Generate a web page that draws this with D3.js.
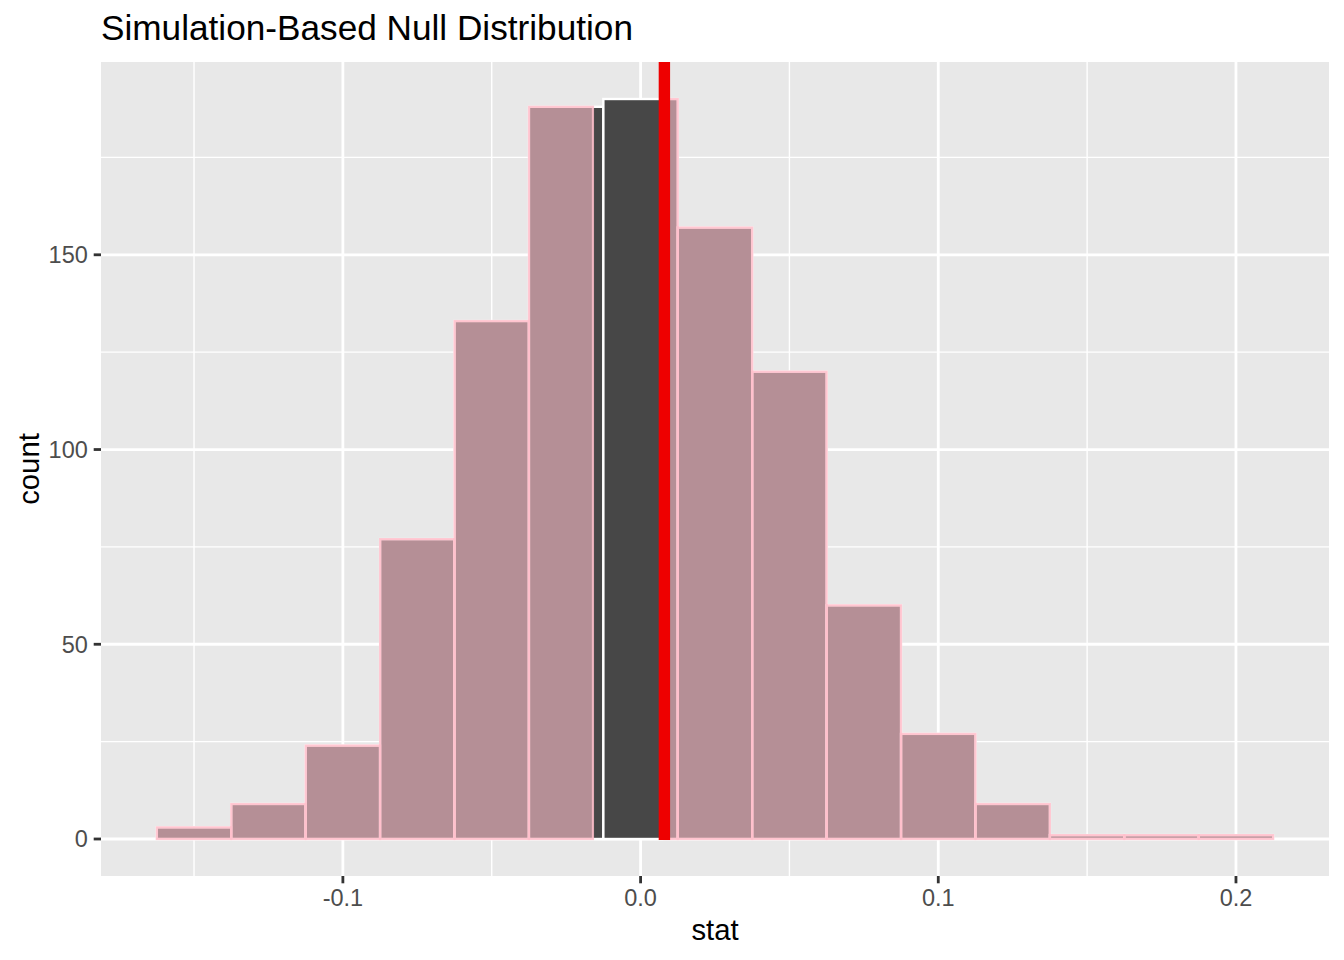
<!DOCTYPE html>
<html>
<head>
<meta charset="utf-8">
<script src="https://cdn.jsdelivr.net/npm/d3@7"></script>
<style>
  html, body { margin: 0; padding: 0; background: #fff; }
  svg { display: block; }
  text { font-family: "Liberation Sans", Arial, Helvetica, sans-serif; }
</style>
</head>
<body>
<svg id="chart" width="1344" height="960"></svg>
<script>
// ---- data ----
const binCenters = [-0.15, -0.125, -0.1, -0.075, -0.05, -0.025, 0, 0.025, 0.05, 0.075, 0.1, 0.125, 0.15, 0.175, 0.2];
const counts     = [3, 9, 24, 77, 133, 188, 190, 157, 120, 60, 27, 9, 1, 1, 1];
const binWidth = 0.025;
const obsStat = 0.008;      // observed statistic (red line)
const mirrorStat = -0.016;  // mirrored cut-off for two-sided shading
const xTicks = [-0.1, 0, 0.1, 0.2];
const xTickLabels = ["-0.1", "0.0", "0.1", "0.2"];
const xMinor = [-0.15, -0.05, 0.05, 0.15];
const yTicks = [0, 50, 100, 150];
const yMinor = [25, 75, 125, 175];
const titleText = "Simulation-Based Null Distribution";
const xTitle = "stat";
const yTitle = "count";

// ---- layout ----
const svg = d3.select("#chart");
const panel = { left: 101, top: 62, right: 1329, bottom: 876 };

const bins = binCenters.map((c, i) => ({ x0: c - binWidth / 2, x1: c + binWidth / 2, n: counts[i] }));
const xMin = d3.min(bins, d => d.x0), xMax = d3.max(bins, d => d.x1);
const xPad = (xMax - xMin) * 0.05;
const yMax = d3.max(counts);
const yPad = yMax * 0.05;

const x = d3.scaleLinear().domain([xMin - xPad, xMax + xPad]).range([panel.left, panel.right]);
const y = d3.scaleLinear().domain([-yPad, yMax + yPad]).range([panel.bottom, panel.top]);

// panel background
svg.append("rect")
  .attr("x", panel.left).attr("y", panel.top)
  .attr("width", panel.right - panel.left).attr("height", panel.bottom - panel.top)
  .attr("fill", "#E8E8E8");

const grid = svg.append("g");
// minor grid
grid.selectAll("line.xminor").data(xMinor).join("line")
  .attr("class", "xminor")
  .attr("x1", d => x(d)).attr("x2", d => x(d))
  .attr("y1", panel.top).attr("y2", panel.bottom)
  .attr("stroke", "#fff").attr("stroke-width", 1.4);
grid.selectAll("line.yminor").data(yMinor).join("line")
  .attr("class", "yminor")
  .attr("y1", d => y(d)).attr("y2", d => y(d))
  .attr("x1", panel.left).attr("x2", panel.right)
  .attr("stroke", "#fff").attr("stroke-width", 1.4);
// major grid
grid.selectAll("line.xmajor").data(xTicks).join("line")
  .attr("class", "xmajor")
  .attr("x1", d => x(d)).attr("x2", d => x(d))
  .attr("y1", panel.top).attr("y2", panel.bottom)
  .attr("stroke", "#fff").attr("stroke-width", 2.8);
grid.selectAll("line.ymajor").data(yTicks).join("line")
  .attr("class", "ymajor")
  .attr("y1", d => y(d)).attr("y2", d => y(d))
  .attr("x1", panel.left).attr("x2", panel.right)
  .attr("stroke", "#fff").attr("stroke-width", 2.8);

// base histogram
svg.append("g").selectAll("rect").data(bins).join("rect")
  .attr("x", d => x(d.x0)).attr("width", d => x(d.x1) - x(d.x0))
  .attr("y", d => y(d.n)).attr("height", d => y(0) - y(d.n))
  .attr("fill", "#474747").attr("stroke", "#fff").attr("stroke-width", 2.4);

// shaded p-value regions (two-sided)
const shaded = [];
bins.forEach(b => {
  if (b.x0 < mirrorStat) shaded.push({ x0: b.x0, x1: Math.min(b.x1, mirrorStat), n: b.n });
  if (b.x1 > obsStat) shaded.push({ x0: Math.max(b.x0, obsStat), x1: b.x1, n: b.n });
});
svg.append("g").selectAll("rect").data(shaded).join("rect")
  .attr("x", d => x(d.x0)).attr("width", d => x(d.x1) - x(d.x0))
  .attr("y", d => y(d.n)).attr("height", d => y(0) - y(d.n))
  .attr("fill", "pink").attr("fill-opacity", 0.6)
  .attr("stroke", "pink").attr("stroke-opacity", 0.85).attr("stroke-width", 2.2);

// observed statistic line
svg.append("line")
  .attr("x1", x(obsStat)).attr("x2", x(obsStat))
  .attr("y1", panel.top).attr("y2", y(0) + 1)
  .attr("stroke", "#EE0000").attr("stroke-width", 11.4);

// axes ticks
const tickLen = 7.3;
svg.append("g").selectAll("line").data(xTicks).join("line")
  .attr("x1", d => x(d)).attr("x2", d => x(d))
  .attr("y1", panel.bottom).attr("y2", panel.bottom + tickLen)
  .attr("stroke", "#333").attr("stroke-width", 2.8);
svg.append("g").selectAll("text").data(xTicks).join("text")
  .attr("x", d => x(d)).attr("y", 906)
  .attr("text-anchor", "middle")
  .attr("font-size", 23.5).attr("fill", "#4D4D4D")
  .text((d, i) => xTickLabels[i]);

svg.append("g").selectAll("line").data(yTicks).join("line")
  .attr("y1", d => y(d)).attr("y2", d => y(d))
  .attr("x1", panel.left - tickLen).attr("x2", panel.left)
  .attr("stroke", "#333").attr("stroke-width", 2.8);
svg.append("g").selectAll("text").data(yTicks).join("text")
  .attr("x", panel.left - tickLen - 5.9).attr("y", d => y(d))
  .attr("dy", "0.36em")
  .attr("text-anchor", "end")
  .attr("font-size", 23.5).attr("fill", "#4D4D4D")
  .text(d => d);

// titles
svg.append("text")
  .attr("x", (panel.left + panel.right) / 2).attr("y", 940)
  .attr("text-anchor", "middle").attr("font-size", 29.3).attr("fill", "#000")
  .text(xTitle);
svg.append("text")
  .attr("transform", `translate(39, ${(panel.top + panel.bottom) / 2}) rotate(-90)`)
  .attr("text-anchor", "middle").attr("font-size", 29.3).attr("fill", "#000")
  .text(yTitle);
svg.append("text")
  .attr("x", panel.left).attr("y", 40)
  .attr("font-size", 35.2).attr("fill", "#000")
  .text(titleText);
</script>
</body>
</html>
